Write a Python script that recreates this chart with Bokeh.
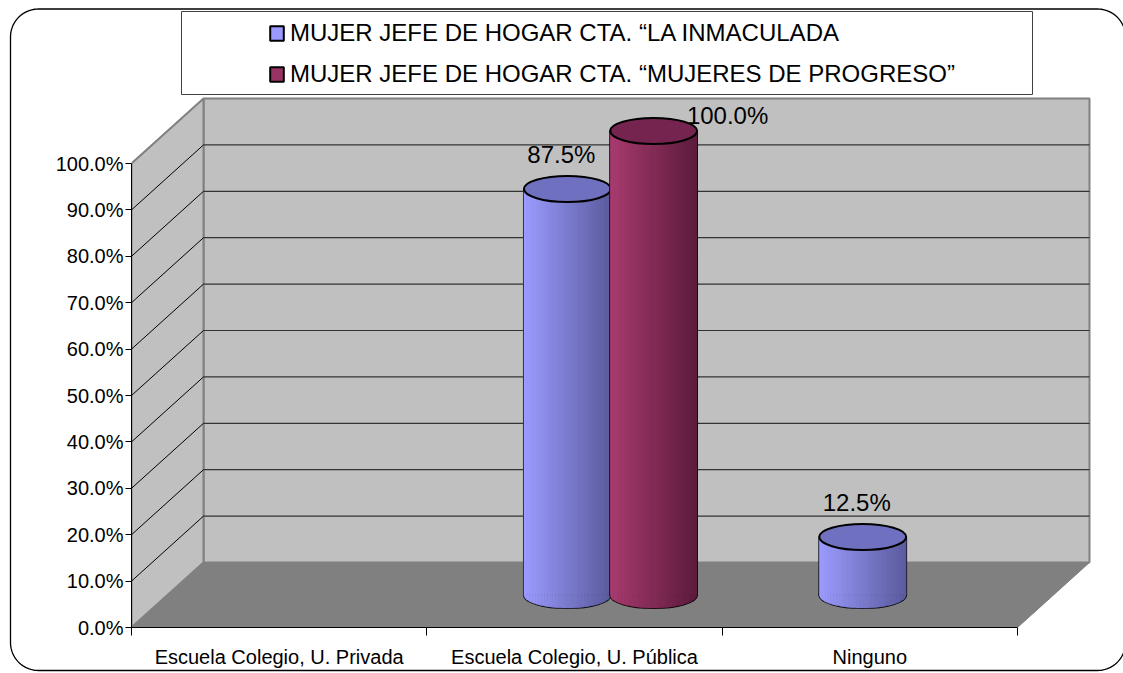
import numpy as np
from bokeh.plotting import figure
from bokeh.models import Range1d, FixedTicker, NumeralTickFormatter, Legend, LegendItem
from bokeh.core.properties import value
from bokeh.embed import file_html
from bokeh.resources import INLINE

# ---------------- data ----------------
categories = ["Escuela Colegio, U. Privada", "Escuela Colegio, U. P\u00fablica", "Ninguno"]
series_names = ["MUJER JEFE DE HOGAR CTA. \u201cLA INMACULADA",
                "MUJER JEFE DE HOGAR CTA. \u201cMUJERES DE PROGRESO\u201d"]
inmaculada = [0.0, 0.875, 0.125]
progreso = [0.0, 1.0, 0.0]
y_ticks = [0.0, 0.1, 0.2, 0.3, 0.4, 0.5, 0.6, 0.7, 0.8, 0.9, 1.0]

# ---------------- style / layout ----------------
FONT = "Liberation Sans"
W, H = 1123, 673
FX0, FY0 = 131, 627      # frame origin (left / bottom) in canvas pixels
LEFT, BOTTOM = FX0, H - FY0
PX_CAT = 295.33          # px per category
PX_PCT = 464.0           # px per 100 %
DX = 72 / PX_CAT         # depth shift (x)
DY = 65 / PX_PCT         # depth shift (y)

light = ["#9c9cff", "#a83c70"]
dark = ["#5a5a9c", "#5c1b3b"]
top_col = ["#7070c0", "#75234f"]
legend_col = ["#9999ff", "#993366"]
offs = [-0.146, 0.146]
A = 0.147
B = 13 / PX_PCT
NSTRIP = 30
lab_dx_px = [-6, 74]
lab_dy_px = [35, 16]


def sx(px):
    return (px - FX0) / PX_CAT


def sy(py):
    return (FY0 - py) / PX_PCT


def hex2rgb(h):
    h = h.lstrip("#")
    return np.array([int(h[i:i + 2], 16) for i in (0, 2, 4)], dtype=float)


def mix(c1, c2, t):
    c = hex2rgb(c1) * (1 - t) + hex2rgb(c2) * t
    return "#%02x%02x%02x" % tuple(int(round(v)) for v in c)


ncat = len(categories)
p = figure(width=W, height=H, output_backend="svg", toolbar_location=None,
           x_range=Range1d(0, (W - LEFT) / PX_CAT), y_range=Range1d(0, FY0 / PX_PCT),
           min_border_left=LEFT, min_border_bottom=BOTTOM, min_border_top=0, min_border_right=0)
p.outline_line_color = None
p.xgrid.visible = False
p.ygrid.visible = False
p.background_fill_color = "white"
p.border_fill_color = "white"

# outer rounded border (layout only)
bl, bt, br, bb, rr = 10, 8.5, 1125, 670, 28
ang = np.linspace(0, np.pi / 2, 24)
bx = []
by = []
bx += list(bl + rr - rr * np.cos(ang)); by += list(bt + rr - rr * np.sin(ang))
bx += list(br - rr + rr * np.sin(ang)); by += list(bt + rr - rr * np.cos(ang))
bx += list(br - rr + rr * np.cos(ang)); by += list(bb - rr + rr * np.sin(ang))
bx += list(bl + rr - rr * np.sin(ang)); by += list(bb - rr + rr * np.cos(ang))
bx.append(bx[0]); by.append(by[0])
p.line([sx(v) for v in bx], [sy(v) for v in by], line_color="black", line_width=1.3, level="overlay")

# legend box (layout only)
p.quad(left=[sx(181)], right=[sx(1032)], top=[sy(11)], bottom=[sy(94)],
       fill_color="white", line_color="#404040", line_width=1)

# ---------------- 3D box ----------------
p.quad(left=[DX], right=[ncat + DX], bottom=[DY], top=[y_ticks[-1] + DY],
       fill_color="#c0c0c0", line_color="#808080", line_width=2)
p.patch([0, 0, DX, DX], [0, y_ticks[-1], y_ticks[-1] + DY, DY],
        fill_color="#c0c0c0", line_color="#808080", line_width=2)
inner = y_ticks[1:-1]
p.segment(x0=[DX] * len(inner), y0=[t + DY for t in inner],
          x1=[ncat + DX] * len(inner), y1=[t + DY for t in inner],
          line_color="#333333", line_width=1.2)
p.segment(x0=[0] * len(inner), y0=inner, x1=[DX] * len(inner), y1=[t + DY for t in inner],
          line_color="black", line_width=1)
p.patch([0, ncat, ncat + DX, DX], [0, 0, DY, DY], fill_color="#808080",
        line_color="#808080", line_width=1)

# ---------------- cylinders ----------------
legend_items = []
for s, vals in enumerate([inmaculada, progreso]):
    idx = [i for i, v in enumerate(vals) if v > 0]
    cx = np.array([i + 0.5 + DX / 2 + offs[s] for i in idx])
    yb = DY / 2
    yt = np.array([yb + vals[i] for i in idx])
    n = len(idx)
    p.ellipse(x=cx, y=[yb] * n, width=2 * A, height=2 * B,
              fill_color=dark[s], line_color="black", line_width=2)
    body = p.quad(left=cx - A, right=cx + A, bottom=[yb] * n, top=yt,
                  fill_color=legend_col[s], line_color="black", line_width=2)
    xs, ys, cols = [], [], []
    for k in range(n):
        for j in range(NSTRIP):
            x0 = cx[k] - A + 2 * A * j / NSTRIP
            x1 = cx[k] - A + 2 * A * (j + 1) / NSTRIP
            pts = np.linspace(x0, x1, 4)
            lows = [yb - B * np.sqrt(max(0.0, 1 - ((xx - cx[k]) / A) ** 2)) for xx in pts]
            xs.append([x0] + list(pts) + [x1])
            ys.append([yt[k]] + lows + [yt[k]])
            cols.append(mix(light[s], dark[s], (j + 0.5) / NSTRIP))
    p.patches(xs, ys, fill_color=cols, line_color=cols, line_width=0.6)
    p.ellipse(x=cx, y=yt, width=2 * A, height=2 * B,
              fill_color=top_col[s], line_color="black", line_width=2)
    p.text(x=cx + lab_dx_px[s] / PX_CAT, y=yt + lab_dy_px[s] / PX_PCT,
           text=["%.1f%%" % (vals[i] * 100) for i in idx],
           text_font=value(FONT), text_font_size="24px", text_align="center",
           text_baseline="alphabetic", text_color="black")
    legend_items.append(LegendItem(label=series_names[s], renderers=[body]))

# ---------------- axes ----------------
ya = p.yaxis[0]
ya.ticker = FixedTicker(ticks=y_ticks)
ya.formatter = NumeralTickFormatter(format="0.0%")
ya.bounds = (y_ticks[0], y_ticks[-1])
ya.axis_line_color = "black"
ya.axis_line_width = 1
ya.major_tick_out = 6
ya.major_tick_in = 0
ya.minor_tick_line_color = None
ya.major_label_standoff = 2
ya.major_label_text_font = FONT
ya.major_label_text_font_size = "20px"
ya.major_label_text_color = "black"

xa = p.xaxis[0]
xa.ticker = FixedTicker(ticks=[i + 0.5 for i in range(ncat)], minor_ticks=list(range(ncat + 1)))
xa.major_label_overrides = {i + 0.5: c for i, c in enumerate(categories)}
xa.bounds = (0, ncat)
xa.axis_line_color = "black"
xa.major_tick_out = 0
xa.major_tick_in = 0
xa.minor_tick_out = 8
xa.minor_tick_in = 0
xa.minor_tick_line_color = "black"
xa.major_label_standoff = 10
xa.major_label_text_font = FONT
xa.major_label_text_font_size = "20px"
xa.major_label_text_color = "black"

legend = Legend(items=legend_items, location=(137, 539), orientation="vertical",
                border_line_color=None, background_fill_alpha=0, padding=0, margin=0,
                spacing=13, glyph_width=17, glyph_height=18, label_standoff=5,
                label_text_font=FONT, label_text_font_size="24px", label_height=28,
                label_text_color="black")
p.add_layout(legend, "center")

open("out.html", "w").write(file_html(p, INLINE))
